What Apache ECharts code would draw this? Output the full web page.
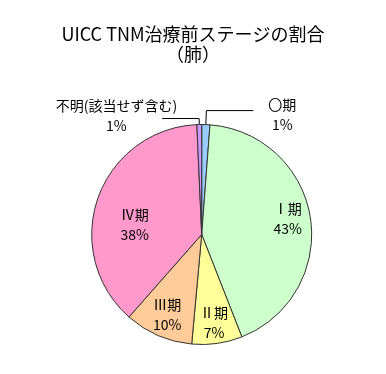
<!DOCTYPE html>
<html><head><meta charset="utf-8">
<script src="https://cdn.jsdelivr.net/npm/echarts@6/dist/echarts.min.js"></script>
<style>html,body{margin:0;padding:0;background:#fff}#c{width:386px;height:374px}</style>
</head><body><div id="c"></div>
<script>
const categories = ['〇期', 'Ⅰ期', 'Ⅱ期', 'Ⅲ期', 'Ⅳ期', '不明(該当せず含む)'];
const values = [1.2, 42.85, 7.4, 10.05, 37.8, 0.7];
const colors = ['#99CCFF', '#CCFFCC', '#FFFF99', '#FFCC99', '#FF99CC', '#CC99FF'];
const titleText = 'UICC TNM治療前ステージの割合\n（肺）';

const FONT = '"Noto Sans CJK JP", "Noto Sans", sans-serif';
const pct = p => Math.round(p.percent) + '%';
const richFmt = p => '{c|' + p.name + '}\n{c|' + pct(p) + '}';
const rich = { c: { align: 'center', fontSize: 14, lineHeight: 20, color: '#000', fontFamily: FONT } };

// outside label styles (0期, 不明)
const outsideCfg = {
  0: { label: { distanceToLabelLine: 15, offset: [0, 4] }, line: { length: 14, length2: 47 } },
  5: { label: { distanceToLabelLine: -15, offset: [0, -3] }, line: { length: 6, length2: 37 } }
};
// inside label offsets
const insideOffset = { 1: [0, -3], 2: [0, 2], 3: [0, 0], 4: [15, 19] };

const mainData = categories.map((n, i) => {
  const d = { name: n, value: values[i], itemStyle: { color: colors[i] } };
  if (outsideCfg[i]) {
    d.label = Object.assign({ show: true, position: 'outside', formatter: richFmt, rich: rich }, outsideCfg[i].label);
    d.labelLine = { show: true, length: outsideCfg[i].line.length, length2: outsideCfg[i].line.length2,
      lineStyle: { color: '#000', width: 1 } };
  }
  return d;
});
const overlayData = categories.map((n, i) => {
  const d = { name: n, value: values[i] };
  if (insideOffset[i]) {
    d.label = { show: true, offset: insideOffset[i] };
  }
  return d;
});

const chart = echarts.init(document.getElementById('c'), null, { renderer: 'canvas' });
chart.setOption({
  animation: false,
  backgroundColor: '#fff',
  title: {
    text: titleText, left: 'center', top: 24, padding: 0,
    textStyle: { fontSize: 18, fontWeight: 'normal', color: '#000', lineHeight: 20, fontFamily: FONT }
  },
  series: [
    {
      type: 'pie', radius: [0, 110], center: [201.7, 234.5], startAngle: 90, clockwise: true,
      avoidLabelOverlap: false, silent: true,
      itemStyle: { borderColor: '#333', borderWidth: 1 },
      label: { show: false },
      labelLine: { show: false },
      data: mainData
    },
    {
      type: 'pie', radius: [0, 168], center: [201.7, 234.5], startAngle: 90, clockwise: true,
      avoidLabelOverlap: false, silent: true,
      itemStyle: { color: 'rgba(0,0,0,0)', borderWidth: 0 },
      label: { show: false, position: 'inside', formatter: richFmt, rich: rich },
      labelLine: { show: false },
      data: overlayData
    }
  ]
});
</script></body></html>
